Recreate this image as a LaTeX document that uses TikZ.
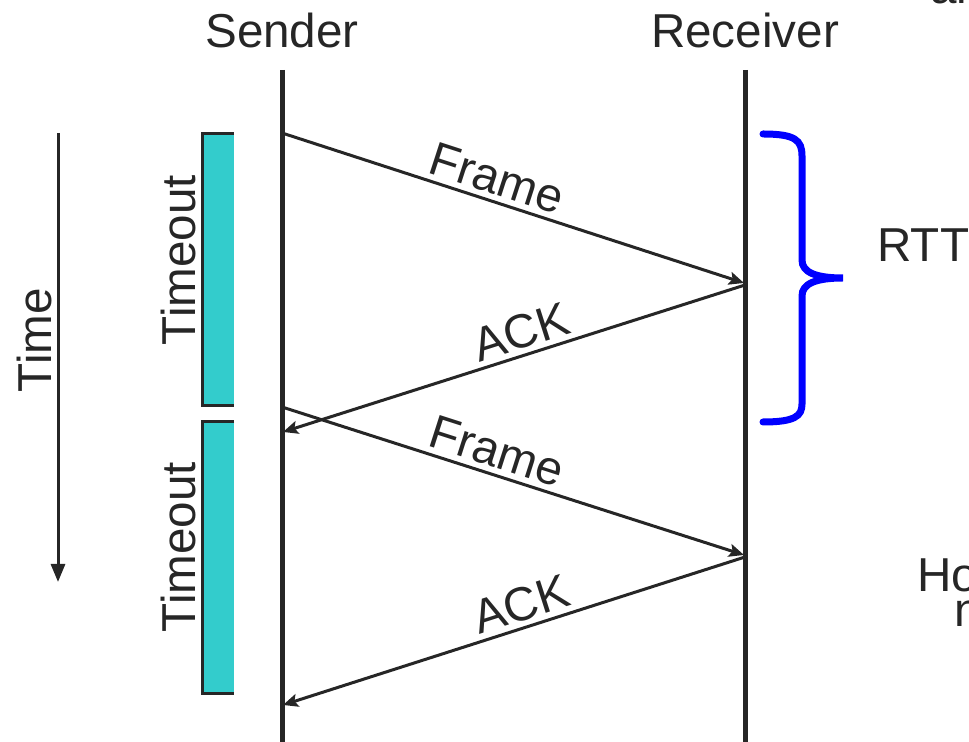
\documentclass[tikz,border=0pt]{standalone}
\usepackage{fontspec}
\setmainfont{Liberation Sans}
\usetikzlibrary{arrows.meta}
\definecolor{ink}{HTML}{262626}
\definecolor{teal}{HTML}{33CCCC}
\begin{document}
\begin{tikzpicture}[x=0.5pt,y=-0.5pt,
  every node/.style={font=\fontsize{23.8}{28}\selectfont, text=ink},
  lifeline/.style={draw=ink, line width=2.5pt},
  msg/.style={draw=ink, line width=1.5pt, -{Stealth[length=7.5pt,width=6.5pt,inset=1.5pt]}},
  msglabel/.style={sloped, above, inner sep=2.5pt},
  timebar/.style={fill=teal, draw=none},
  timeedge/.style={draw=ink, line width=1.5pt},
  rotlabel/.style={rotate=90, anchor=base},
  sidetext/.style={anchor=base west, inner sep=0pt},
  brace/.style={draw=blue, line width=3.5pt, line cap=round}]
\useasboundingbox (0,0) rectangle (969,742);
\clip (0,0) rectangle (969,742);

% headers
\node[anchor=base] (sender) at (282,48) {Sender};
\node[anchor=base] (receiver) at (745,48) {Receiver};

% lifelines
\coordinate (stop) at (282,70);
\coordinate (sbot) at (282,742);
\coordinate (rtop) at (745,70);
\coordinate (rbot) at (745,742);
\draw[lifeline] (stop) -- (sbot);
\draw[lifeline] (rtop) -- (rbot);

% message points
\coordinate (s1) at (282,133);
\coordinate (r1) at (744,283);
\coordinate (r1b) at (745,285);
\coordinate (s2) at (283,432);
\coordinate (s3) at (282,407);
\coordinate (r3) at (744,555);
\coordinate (r3b) at (745,557);
\coordinate (s4) at (283,705);

\draw[msg] (s1) -- node[msglabel, pos=0.45] (f1) {Frame} (r1);
\draw[msg] (r1b) -- node[msglabel, pos=0.47] (a1) {ACK} (s2);
\draw[msg] (s3) -- node[msglabel, pos=0.45] (f2) {Frame} (r3);
\draw[msg] (r3b) -- node[msglabel, pos=0.47] (a2) {ACK} (s4);

% timeout bars
\fill[timebar] (202,134) rectangle (234,406);
\draw[timeedge] (234,134) -- (202,134) -- (202,406) -- (234,406);
\fill[timebar] (202,422) rectangle (234,693);
\draw[timeedge] (234,422) -- (202,422) -- (202,693) -- (234,693);
\node[rotlabel] (to1) at (195,260) {Timeout};
\node[rotlabel] (to2) at (195,547) {Timeout};

% time axis
\coordinate (ttop) at (58,133);
\coordinate (tbot) at (58,582);
\draw[draw=ink, line width=1.5pt, -{Triangle[length=9pt,width=7pt]}] (ttop) -- (tbot);
\node[rotlabel] (time) at (51,340) {Time};

% RTT brace
\draw[brace] (763,134) .. controls (795,134) and (802,140) .. (802,156)
  -- (802,260) .. controls (802,272) and (815,278) .. (843,278)
  .. controls (815,278) and (802,284) .. (802,296)
  -- (802,404) .. controls (802,416) and (795,422) .. (763,422);

% partially visible texts on the right
\node[sidetext] (rtt) at (877,262) {RTT};
\node[sidetext] (ho) at (917,592) {Ho};
\node[sidetext] (n) at (954,626) {n};
\node[sidetext] (top) at (930,4) {al};
\end{tikzpicture}
\end{document}
